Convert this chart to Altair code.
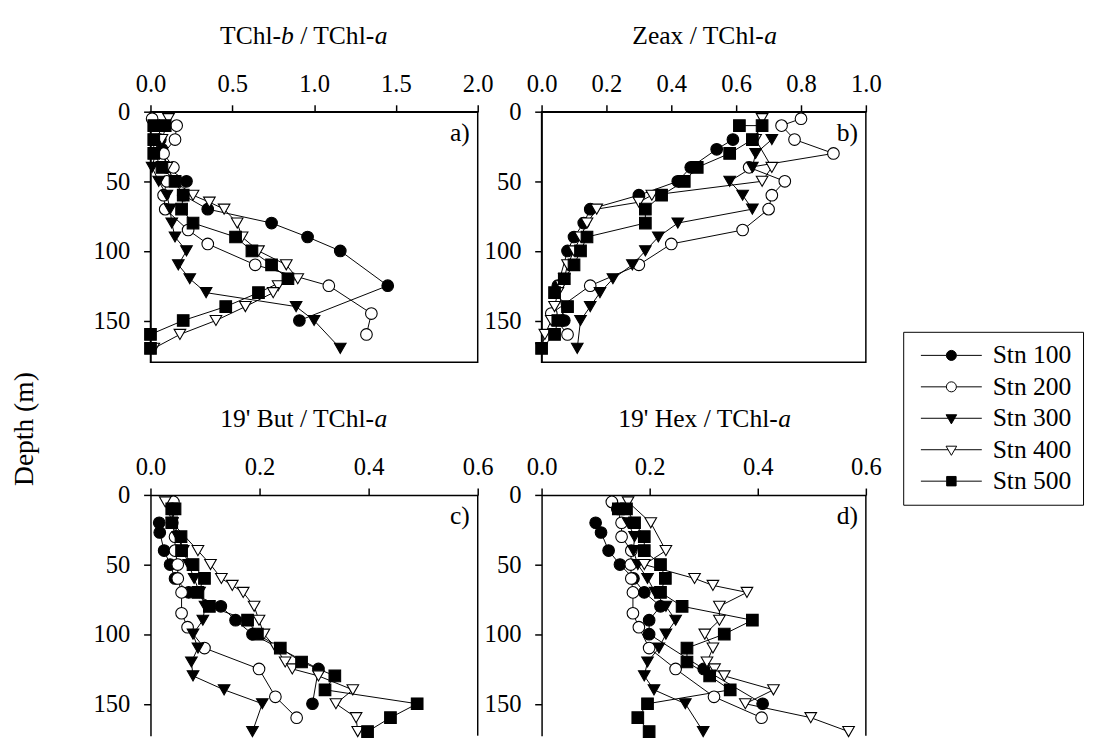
import altair as alt
import pandas as pd

FONT = "Liberation Serif"

STATIONS = ["Stn 100", "Stn 200", "Stn 300", "Stn 400", "Stn 500"]

# sampling depths (m) per station
DEPTH_100 = [20, 27, 40, 50, 60, 70, 80, 90, 100, 125, 150]
DEPTH_200 = [5, 10, 20, 30, 40, 50, 60, 70, 85, 95, 110, 125, 145, 160]
DEPTH_300 = [20, 30, 40, 50, 60, 70, 80, 90, 100, 110, 120, 130, 140, 150, 170]
DEPTH_400 = [5, 20, 40, 50, 60, 65, 70, 80, 90, 100, 110, 120, 125, 130, 140, 150, 160, 170]
DEPTH_500 = [10, 10, 20, 30, 40, 50, 60, 70, 80, 90, 100, 110, 120, 130, 140, 150, 160, 170]

# a) TChl-b / TChl-a
CHLB_100 = [0.06, 0.07, 0.10, 0.22, 0.20, 0.35, 0.74, 0.96, 1.16, 1.45, 0.91]
CHLB_200 = [0.01, 0.16, 0.15, 0.08, 0.14, 0.10, 0.08, 0.09, 0.23, 0.35, 0.64, 1.09, 1.35, 1.32]
CHLB_300 = [0.05, 0.03, 0.01, 0.05, 0.10, 0.12, 0.13, 0.15, 0.22, 0.17, 0.24, 0.34, 0.89, 1.00, 1.16]
CHLB_400 = [0.11, 0.07, 0.10, 0.15, 0.26, 0.36, 0.45, 0.53, 0.56, 0.66, 0.83, 0.90, 0.78, 0.75, 0.58, 0.40, 0.18, 0.02]
CHLB_500 = [0.02, 0.09, 0.02, 0.02, 0.07, 0.15, 0.20, 0.19, 0.26, 0.52, 0.62, 0.74, 0.84, 0.66, 0.46, 0.20, 0.00, 0.00]

# b) Zeax / TChl-a
ZEAX_100 = [0.59, 0.54, 0.46, 0.42, 0.30, 0.15, 0.13, 0.10, 0.08, 0.05, 0.07]
ZEAX_200 = [0.80, 0.74, 0.78, 0.90, 0.64, 0.75, 0.71, 0.70, 0.62, 0.40, 0.30, 0.15, 0.03, 0.08]
ZEAX_300 = [0.71, 0.66, 0.65, 0.58, 0.62, 0.65, 0.42, 0.36, 0.32, 0.28, 0.22, 0.18, 0.15, 0.12, 0.11]
ZEAX_400 = [0.68, 0.66, 0.71, 0.68, 0.34, 0.30, 0.17, 0.14, 0.12, 0.10, 0.08, 0.07, 0.06, 0.05, 0.04, 0.03, 0.01, 0.00]
ZEAX_500 = [0.61, 0.68, 0.65, 0.58, 0.48, 0.44, 0.37, 0.32, 0.32, 0.14, 0.12, 0.10, 0.07, 0.04, 0.08, 0.05, 0.04, 0.00]

# c) 19' But / TChl-a
BUT_100 = [0.016, 0.017, 0.025, 0.036, 0.045, 0.070, 0.129, 0.156, 0.187, 0.308, 0.297]
BUT_200 = [0.042, 0.040, 0.040, 0.045, 0.045, 0.050, 0.050, 0.057, 0.057, 0.068, 0.099, 0.199, 0.229, 0.268]
BUT_300 = [0.040, 0.050, 0.060, 0.070, 0.080, 0.090, 0.100, 0.096, 0.078, 0.087, 0.075, 0.078, 0.135, 0.205, 0.187]
BUT_400 = [0.027, 0.040, 0.087, 0.110, 0.130, 0.150, 0.170, 0.190, 0.199, 0.208, 0.230, 0.247, 0.260, 0.308, 0.371, 0.340, 0.377, 0.380]
BUT_500 = [0.039, 0.045, 0.039, 0.056, 0.057, 0.078, 0.099, 0.087, 0.108, 0.178, 0.196, 0.238, 0.277, 0.338, 0.320, 0.489, 0.440, 0.398]

# d) 19' Hex / TChl-a
HEX_100 = [0.100, 0.110, 0.124, 0.145, 0.170, 0.190, 0.220, 0.199, 0.199, 0.300, 0.409]
HEX_200 = [0.130, 0.140, 0.148, 0.148, 0.166, 0.165, 0.166, 0.169, 0.169, 0.180, 0.199, 0.248, 0.319, 0.407]
HEX_300 = [0.160, 0.172, 0.170, 0.178, 0.196, 0.210, 0.230, 0.248, 0.230, 0.217, 0.196, 0.190, 0.208, 0.266, 0.299]
HEX_400 = [0.160, 0.202, 0.230, 0.190, 0.283, 0.317, 0.380, 0.329, 0.329, 0.302, 0.317, 0.306, 0.320, 0.338, 0.429, 0.377, 0.498, 0.568]
HEX_500 = [0.142, 0.157, 0.172, 0.190, 0.190, 0.220, 0.229, 0.220, 0.260, 0.390, 0.338, 0.269, 0.269, 0.311, 0.349, 0.196, 0.178, 0.199]

DEPTHS = [DEPTH_100, DEPTH_200, DEPTH_300, DEPTH_400, DEPTH_500]

SHAPES = ["circle", "circle", "triangle-down", "triangle-down", "square"]
FILLS = ["black", "white", "black", "white", "black"]
STROKES = ["black", "black", "black", "black", "black"]

# legend symbols: line segment with marker (unit = sqrt(size)/2)
LEGEND_PATHS = [
    "M-1,0H3.32M5.02,0H9.33M3.32,0A0.85,0.85,0,1,1,5.02,0A0.85,0.85,0,1,1,3.32,0Z",
    "M-1,0H3.32M5.02,0H9.33M3.32,0A0.85,0.85,0,1,1,5.02,0A0.85,0.85,0,1,1,3.32,0Z",
    "M-1,0H3.62M4.72,0H9.33M3.27,-0.6L5.07,-0.6L4.17,0.95Z",
    "M-1,0H3.62M4.72,0H9.33M3.27,-0.6L5.07,-0.6L4.17,0.95Z",
    "M-1,0H3.37M4.97,0H9.33M3.37,-0.8H4.97V0.8H3.37Z",
]

# Times / Liberation Serif advance widths (per em)
W_REG = {"T": .611, "C": .667, "h": .5, "l": .278, "-": .333, " ": .25, "/": .278,
         "Z": .611, "e": .444, "a": .444, "x": .5, "1": .5, "9": .5, "'": .18,
         "B": .667, "u": .5, "t": .278, "H": .722}
W_IT = {"a": .5, "b": .5}
TFS = 26
TITLE_BASE = -69


def text_w(s, italic):
    table = W_IT if italic else W_REG
    return sum(table.get(ch, .5) for ch in s) * TFS


def title_layers(parts, cx, base_y):
    total = sum(text_w(t, it) for t, it in parts)
    x = cx - total / 2
    out = []
    for t, it in parts:
        lead = len(t) - len(t.lstrip(" "))
        xs = x + lead * W_REG[" "] * TFS
        out.append(
            alt.Chart(pd.DataFrame({"t": [t.strip(" ")]}))
            .mark_text(align="left", baseline="alphabetic", font=FONT, fontSize=TFS,
                       fontStyle="italic" if it else "normal", color="black")
            .encode(text="t:N", x=alt.value(xs), y=alt.value(base_y))
        )
        x += text_w(t, it)
    return out


def panel(vals, xmax, xticks, parts, title_cx, letter, w, h, ymax, bottom_row, extra=()):
    rows = []
    for st, dep, v in zip(STATIONS, DEPTHS, vals):
        for i, (d, x) in enumerate(zip(dep, v)):
            rows.append({"station": st, "depth": d, "value": x, "seq": i})
    df = pd.DataFrame(rows)
    xenc = alt.X("value:Q",
                 scale=alt.Scale(domain=[0, xmax], nice=False, zero=False),
                 axis=alt.Axis(orient="top", values=xticks, format=".1f", title=None,
                               grid=False, labelFlush=False, labelOverlap=False,
                               labelPadding=9, labelFont=FONT, labelFontSize=25))
    yenc = alt.Y("depth:Q",
                 scale=alt.Scale(domain=[0, ymax], reverse=True, nice=False, zero=False),
                 axis=alt.Axis(values=[0, 50, 100, 150], title=None, grid=False,
                               labelPadding=14, labelOverlap=False,
                               labelFont=FONT, labelFontSize=25))
    base = alt.Chart(df)
    lines = base.mark_line(color="black", strokeWidth=1).encode(
        x=xenc, y=yenc, detail="station:N", order="seq:Q")
    pts = base.mark_point(filled=True, size=140, stroke="black", strokeWidth=1.1,
                          opacity=1).encode(
        x=xenc, y=yenc,
        shape=alt.Shape("station:N", scale=alt.Scale(domain=STATIONS, range=SHAPES), legend=None),
        fill=alt.Fill("station:N", scale=alt.Scale(domain=STATIONS, range=FILLS), legend=None))
    lab = alt.Chart(pd.DataFrame({"t": [letter]})).mark_text(
        align="right", baseline="middle", font=FONT, fontSize=26, color="black").encode(
        text="t:N", x=alt.value(w - 8), y=alt.value(22))
    layers = [lines, pts, lab] + title_layers(parts, title_cx, TITLE_BASE) + list(extra)
    if bottom_row:
        edge = alt.Chart(pd.DataFrame({"k": [0]})).mark_rule(color="black", strokeWidth=1.5).encode(
            x=alt.datum(xmax), y=alt.datum(0), y2=alt.datum(ymax))
        layers.append(edge)
    ch = alt.layer(*layers).properties(width=w, height=h)
    if bottom_row:
        ch = ch.properties(view=alt.ViewBackground(stroke="transparent"))
    return ch


depth_label = alt.Chart(pd.DataFrame({"t": ["Depth (m)"]})).mark_text(
    angle=270, align="center", baseline="middle", font=FONT, fontSize=28, color="black").encode(
    text="t:N", x=alt.value(-128), y=alt.value(323))

leg = alt.Legend(orient="none", legendX=368, legendY=224, title=None,
                 labelFont=FONT, labelFontSize=26, labelColor="black",
                 symbolSize=144, symbolStrokeColor="black", symbolStrokeWidth=1,
                 symbolOpacity=1, labelOffset=54, rowPadding=6, padding=11,
                 strokeColor="black", fillColor="white", symbolLimit=0)
legend_layer = alt.Chart(pd.DataFrame({"station": STATIONS})).mark_point(
    filled=True, opacity=0, size=144, strokeWidth=1).encode(
    shape=alt.Shape("station:N", scale=alt.Scale(domain=STATIONS, range=LEGEND_PATHS), legend=leg),
    fill=alt.Fill("station:N", scale=alt.Scale(domain=STATIONS, range=FILLS), legend=leg),
    stroke=alt.Stroke("station:N", scale=alt.Scale(domain=STATIONS, range=STROKES), legend=leg))

TOP_H = 255
BOT_H = 245
PX_PER_M = TOP_H / 180.0
BOT_MAX = BOT_H / PX_PER_M

pa = panel([CHLB_100, CHLB_200, CHLB_300, CHLB_400, CHLB_500], 2.0, [0, 0.5, 1.0, 1.5, 2.0],
           [("TChl-", False), ("b", True), (" / TChl-", False), ("a", True)], 156,
           "a)", 333, TOP_H, 180, False, extra=[depth_label])
pb = panel([ZEAX_100, ZEAX_200, ZEAX_300, ZEAX_400, ZEAX_500], 1.0, [0, 0.2, 0.4, 0.6, 0.8, 1.0],
           [("Zeax / TChl-", False), ("a", True)], 166,
           "b)", 330, TOP_H, 180, False, extra=[legend_layer])
pb = pb.resolve_scale(shape="independent", fill="independent", stroke="independent")
pc = panel([BUT_100, BUT_200, BUT_300, BUT_400, BUT_500], 0.6, [0, 0.2, 0.4, 0.6],
           [("19' But / TChl-", False), ("a", True)], 156,
           "c)", 333, BOT_H, BOT_MAX, True)
pd_ = panel([HEX_100, HEX_200, HEX_300, HEX_400, HEX_500], 0.6, [0, 0.2, 0.4, 0.6],
            [("19' Hex / TChl-", False), ("a", True)], 166,
            "d)", 330, BOT_H, BOT_MAX, True)

chart = alt.concat(pa, pb, pc, pd_, columns=2, spacing={"row": 135, "column": 65},
                   bounds="flush").resolve_scale(
    shape="independent", fill="independent", stroke="independent").properties(
    padding={"left": 2, "top": 8, "right": 0, "bottom": 0},
    background="white").configure_view(
    stroke="black", strokeWidth=1.5).configure_axis(
    labelFont=FONT, labelFontSize=25, labelColor="black", tickColor="black",
    domainColor="black", tickSize=7, tickWidth=1.5, domainWidth=1.5)

chart.save("out.html", embed_options={"renderer": "svg", "actions": False})
